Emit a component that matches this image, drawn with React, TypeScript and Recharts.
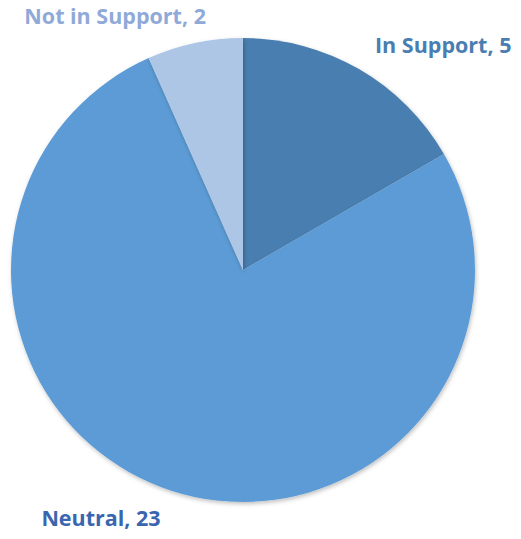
import React from 'react';
import { PieChart, Pie, Cell } from 'recharts';

const categories = ['In Support', 'Neutral', 'Not in Support'];
const counts = [5, 23, 2];
const sliceColors = ['#4a7eb0', '#5b9bd5', '#adc6e6'];
const labelColors = ['#4a7eb0', '#3a66b0', '#8fa9d9'];

const data = categories.map((name, i) => ({ name, value: counts[i] }));

const RADIAN = Math.PI / 180;
const labelNudge = [
  { dx: 2, dy: 0 },
  { dx: -2, dy: 0 },
  { dx: 17, dy: 0 },
];

const renderLabel = (props: any) => {
  const { cx, cy, midAngle, outerRadius, index } = props;
  const r = outerRadius + 28;
  const x = cx + r * Math.cos(-midAngle * RADIAN);
  const y = cy + r * Math.sin(-midAngle * RADIAN);
  const nudge = labelNudge[index];
  return (
    <text
      x={x + nudge.dx}
      y={y + nudge.dy}
      fill={labelColors[index]}
      textAnchor={x > cx ? 'start' : 'end'}
      dominantBaseline="central"
      fontFamily="'Open Sans', sans-serif"
      fontWeight="bold"
      fontSize={21.5}
    >
      {`${data[index].name}, ${data[index].value}`}
    </text>
  );
};

const App: React.FC = () => {
  return (
    <div style={{ position: 'absolute', left: 0, top: 0, width: 521, height: 539, background: '#fff' }}>
      <PieChart width={521} height={539} margin={{ top: 0, right: 0, bottom: 0, left: 0 }}>
        <defs>
          <filter id="pieShadow" x="-10%" y="-10%" width="120%" height="120%">
            <feDropShadow dx="1" dy="2" stdDeviation="2" floodColor="#000" floodOpacity="0.25" />
          </filter>
        </defs>
        <Pie
          data={data}
          dataKey="value"
          nameKey="name"
          cx={243}
          cy={270}
          outerRadius={232}
          startAngle={90}
          endAngle={-270}
          stroke="#ffffff"
          strokeWidth={0}
          label={renderLabel}
          labelLine={false}
          isAnimationActive={false}
          style={{ filter: 'url(#pieShadow)' }}
        >
          {data.map((entry, i) => (
            <Cell key={entry.name} fill={sliceColors[i]} />
          ))}
        </Pie>
      </PieChart>
    </div>
  );
};

export default App;
